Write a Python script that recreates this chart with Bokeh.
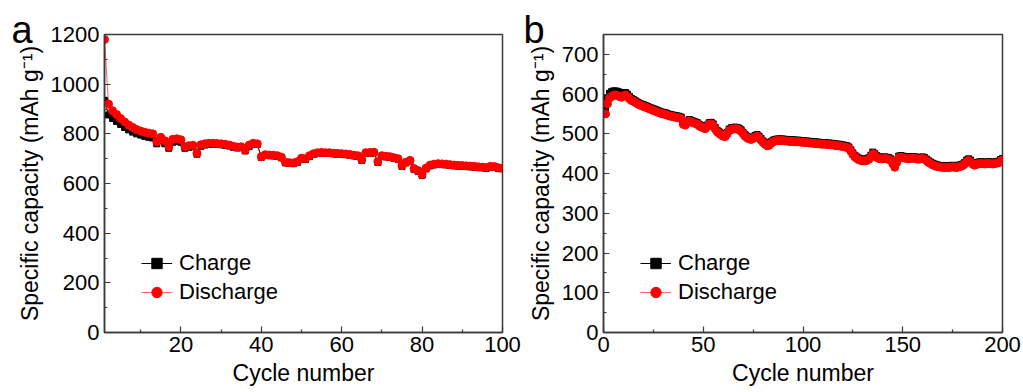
from bokeh.plotting import figure
from bokeh.layouts import row
from bokeh.models import Range1d, FixedTicker, Legend, LegendItem
from bokeh.embed import file_html
from bokeh.resources import INLINE

# ---------------- data ----------------
cycles_a = list(range(1, 101))
charge_a = [
    935, 876, 862, 850, 838, 826, 816, 807, 800, 795,
    790, 786, 783, 760, 772, 760, 742, 766, 770, 766,
    742, 746, 748, 718, 750, 755, 757, 758, 757, 756,
    754, 751, 746, 743, 744, 731, 750, 758, 757, 705,
    713, 712, 711, 709, 703, 683, 681, 680, 685, 699,
    697, 709, 717, 721, 722, 721, 721, 719, 718, 717,
    716, 714, 711, 709, 693, 721, 722, 723, 685, 709,
    707, 705, 701, 697, 669, 683, 690, 657, 649, 633,
    659, 671, 675, 677, 676, 675, 673, 671, 670, 669,
    668, 667, 666, 664, 663, 661, 666, 665, 660, 659,
]
discharge_a = [
    1180, 920, 893, 878, 862, 848, 836, 826, 817, 811,
    806, 803, 800, 768, 786, 772, 748, 778, 780, 776,
    748, 752, 754, 722, 756, 760, 762, 762, 761, 760,
    758, 755, 750, 747, 748, 735, 755, 762, 760, 708,
    716, 715, 714, 712, 706, 686, 684, 683, 688, 702,
    700, 712, 720, 724, 725, 724, 724, 722, 721, 720,
    719, 717, 714, 712, 696, 724, 725, 726, 688, 712,
    710, 708, 704, 700, 672, 686, 693, 660, 652, 636,
    662, 674, 678, 680, 679, 678, 676, 674, 673, 672,
    671, 670, 669, 667, 666, 664, 669, 668, 663, 662,
]

cycles_b = list(range(1, 201))
charge_b = [
    566, 590, 602, 606, 608, 608, 607, 605, 603, 604,
    604, 600, 594, 589, 586, 583, 580, 577, 575, 573,
    571, 569, 567, 565, 563, 561, 559, 557, 555, 554,
    553, 551, 549, 548, 547, 546, 545, 544, 542, 528,
    526, 532, 536, 534, 532, 530, 528, 524, 521, 519,
    517, 522, 528, 529, 525, 516, 509, 505, 501, 498,
    497, 504, 512, 515, 516, 517, 516, 514, 510, 504,
    498, 494, 491, 490, 492, 496, 498, 494, 488, 482,
    478, 474, 475, 480, 484, 486, 487, 487, 487, 487,
    486, 486, 485, 485, 485, 484, 484, 484, 483, 483,
    482, 482, 481, 481, 480, 480, 479, 479, 478, 478,
    478, 477, 477, 476, 476, 475, 474, 474, 473, 472,
    471, 470, 467, 460, 452, 446, 442, 439, 437, 436,
    436, 437, 440, 446, 454, 450, 445, 442, 441, 441,
    442, 441, 440, 437, 429, 420, 432, 444, 445, 444,
    443, 442, 441, 442, 443, 442, 441, 440, 441, 442,
    440, 436, 432, 429, 426, 424, 422, 421, 420, 420,
    419, 420, 419, 420, 421, 420, 419, 421, 422, 424,
    428, 434, 437, 434, 428, 425, 427, 429, 430, 429,
    428, 429, 430, 429, 428, 429, 430, 431, 435, 438,
]
discharge_b = [
    550, 576, 590, 594, 597, 598, 596, 594, 592, 595,
    598, 594, 588, 584, 582, 579, 576, 573, 571, 569,
    567, 565, 563, 561, 559, 557, 555, 553, 551, 550,
    549, 547, 545, 544, 543, 542, 541, 540, 538, 524,
    522, 528, 532, 530, 528, 526, 524, 520, 517, 515,
    513, 518, 524, 525, 521, 512, 505, 501, 497, 494,
    493, 500, 508, 511, 512, 513, 512, 510, 506, 500,
    494, 490, 487, 486, 488, 492, 494, 490, 484, 478,
    474, 470, 471, 476, 480, 482, 483, 483, 483, 483,
    482, 482, 481, 481, 481, 480, 480, 480, 479, 479,
    478, 478, 477, 477, 476, 476, 475, 475, 474, 474,
    474, 473, 473, 472, 472, 471, 470, 470, 469, 468,
    467, 466, 463, 456, 448, 442, 438, 435, 433, 432,
    432, 433, 436, 442, 450, 446, 441, 438, 437, 437,
    438, 437, 436, 433, 425, 416, 428, 440, 441, 440,
    439, 438, 437, 438, 439, 438, 437, 436, 437, 438,
    436, 432, 428, 425, 422, 420, 418, 417, 416, 416,
    415, 416, 415, 416, 417, 416, 415, 417, 418, 420,
    424, 430, 433, 430, 424, 421, 423, 425, 426, 425,
    424, 425, 426, 425, 424, 425, 426, 427, 431, 434,
]

xticks_a = [20, 40, 60, 80, 100]
xminor_a = [10, 30, 50, 70, 90]
yticks_a = [0, 200, 400, 600, 800, 1000, 1200]
yminor_a = [100, 300, 500, 700, 900, 1100]
xticks_b = [0, 50, 100, 150, 200]
xminor_b = [25, 75, 125, 175]
yticks_b = [0, 100, 200, 300, 400, 500, 600, 700]
yminor_b = [50, 150, 250, 350, 450, 550, 650]

FONT = "Liberation Sans"
AX = "#3a3a3a"


def make_panel(letter, cyc, chg, dis, xr, yr, xt, xm, yt, ym,
               width, left, right, letter_offset):
    p = figure(width=width, height=392, output_backend="svg",
               toolbar_location=None, x_range=Range1d(*xr),
               y_range=Range1d(*yr), min_border_left=left,
               min_border_right=right, min_border_top=34,
               min_border_bottom=60)
    p.background_fill_color = "white"
    p.border_fill_color = "white"
    p.outline_line_color = AX
    p.outline_line_width = 1.5
    p.xgrid.visible = False
    p.ygrid.visible = False

    # panel letter as the figure title, pulled down beside the frame
    p.title.text = letter
    p.title.align = "left"
    p.title.vertical_align = "bottom"
    p.title.offset = letter_offset
    p.title.text_font = FONT
    p.title.text_font_size = "38px"
    p.title.text_font_style = "normal"
    p.title.text_color = "black"
    p.title.standoff = -32

    p.xaxis.ticker = FixedTicker(ticks=xt, minor_ticks=xm)
    p.yaxis.ticker = FixedTicker(ticks=yt, minor_ticks=ym)
    for ax in (p.xaxis, p.yaxis):
        ax.axis_line_color = AX
        ax.axis_line_width = 1.5
        ax.major_tick_line_color = AX
        ax.minor_tick_line_color = AX
        ax.major_tick_line_width = 1.2
        ax.minor_tick_line_width = 1.2
        ax.major_tick_in = 6
        ax.major_tick_out = 0
        ax.minor_tick_in = 3
        ax.minor_tick_out = 0
        ax.major_label_text_font = FONT
        ax.major_label_text_font_size = "22px"
        ax.major_label_text_color = "black"
        ax.axis_label_text_font = FONT
        ax.axis_label_text_font_size = "23px"
        ax.axis_label_text_font_style = "normal"
        ax.axis_label_text_color = "black"
    p.xaxis.major_label_standoff = 4
    p.xaxis.axis_label_standoff = 5
    p.yaxis.major_label_standoff = 5
    p.yaxis.axis_label_standoff = 5
    p.xaxis.axis_label = "Cycle number"
    p.yaxis.axis_label = "Specific capacity (mAh g\u207b\u00b9)"

    lc = p.line(cyc, chg, line_color="black", line_width=1)
    sc = p.scatter(cyc, chg, marker="square", size=6, fill_color="black",
                   line_color="black")
    ld = p.line(cyc, dis, line_color="red", line_width=1, line_alpha=0.6)
    sd = p.scatter(cyc, dis, marker="circle", size=8, fill_color="red",
                   line_color="red")

    legend = Legend(items=[LegendItem(label="Charge", renderers=[lc, sc]),
                           LegendItem(label="Discharge", renderers=[ld, sd])],
                    location=(37, 27))
    legend.background_fill_alpha = 0
    legend.border_line_alpha = 0
    legend.padding = 0
    legend.margin = 0
    legend.glyph_width = 31
    legend.glyph_height = 26
    legend.label_height = 26
    legend.spacing = 3
    legend.label_standoff = 7
    legend.label_text_font = FONT
    legend.label_text_font_size = "22px"
    legend.label_text_color = "black"
    p.add_layout(legend)
    return p


pa = make_panel("a", cycles_a, charge_a, discharge_a, (1, 100), (0, 1200),
                xticks_a, xminor_a, yticks_a, yminor_a,
                width=522, left=104, right=20, letter_offset=-93)
pb = make_panel("b", cycles_b, charge_b, discharge_b, (0, 200), (0, 750),
                xticks_b, xminor_b, yticks_b, yminor_b,
                width=501, left=81, right=21, letter_offset=-80)

layout = row(pa, pb)
open("out.html", "w").write(file_html(layout, INLINE))
